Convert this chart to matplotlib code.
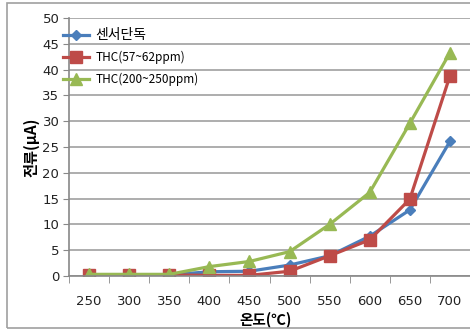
import matplotlib.pyplot as plt
from matplotlib.patches import Rectangle
import numpy as np

plt.rcParams['font.family'] = ['Noto Sans CJK KR', 'DejaVu Sans']

# temperature categories and measured currents
temps = ['250', '300', '350', '400', '450', '500', '550', '600', '650', '700']
sensor_only = [0.2, 0.2, 0.2, 0.8, 0.9, 2.1, 3.9, 7.7, 12.8, 26.1]
thc_low = [0.1, 0.1, 0.2, 0.1, 0.1, 0.9, 3.9, 7.0, 14.9, 38.8]
thc_high = [0.3, 0.3, 0.3, 1.8, 2.8, 4.7, 10.0, 16.2, 29.6, 43.3]

fig = plt.figure(figsize=(4.7, 3.3), dpi=100)
ax = fig.add_axes([0.147, 0.164, 0.853, 0.781])

# outer frame like the excel chart area
fig.patches.append(Rectangle((0.015, 0.006), 0.99, 0.985, transform=fig.transFigure,
                             fill=False, edgecolor='#a0a0a0', linewidth=1.2))

x = np.arange(len(temps))
ax.plot(x, sensor_only, color='#4a7ebb', marker='D', markersize=5, linewidth=2.3,
        label='센서단독')
ax.plot(x, thc_low, color='#be4b48', marker='s', markersize=8, linewidth=2.3,
        label='THC(57~62ppm)')
ax.plot(x, thc_high, color='#98b954', marker='^', markersize=8, linewidth=2.3,
        label='THC(200~250ppm)')

ax.set_xlim(-0.5, len(temps) - 0.5)
ax.set_ylim(0, 50)
ax.set_yticks(range(0, 51, 5))
ax.set_xticks(x)
ax.set_xticklabels(temps)
ax.set_xticks(np.arange(-0.5, len(temps), 1), minor=True)
ax.tick_params(axis='x', which='major', length=0, pad=14, labelsize=9.5, colors='#222222')
ax.tick_params(axis='x', which='minor', length=5, color='#888888', direction='out')
ax.tick_params(axis='y', length=4, color='#888888', labelsize=9.5, colors='#222222', pad=3)
for t in ax.get_xticklabels() + ax.get_yticklabels():
    t.set_family('DejaVu Sans')

ax.grid(axis='y', color='#a0a0a0', linewidth=1.2)
ax.set_axisbelow(True)
for s in ['top', 'right']:
    ax.spines[s].set_visible(False)
for s in ['left', 'bottom']:
    ax.spines[s].set_color('#888888')
    ax.spines[s].set_linewidth(1.2)

ax.set_xlabel('온도(℃)', fontsize=10.5, fontweight='bold', va='center')
ax.xaxis.set_label_coords(0.49, -0.172)
ax.set_ylabel('전류(μA)', fontsize=11, fontweight='bold', labelpad=2)

leg = ax.legend(loc='upper left', bbox_to_anchor=(-0.035, 0.995), frameon=False,
                fontsize=8.5, handlelength=2.2, handletextpad=0.5, labelspacing=0.75,
                borderaxespad=0.3)
leg.get_texts()[0].set_fontsize(10)

fig.savefig('out.png', dpi=100)
